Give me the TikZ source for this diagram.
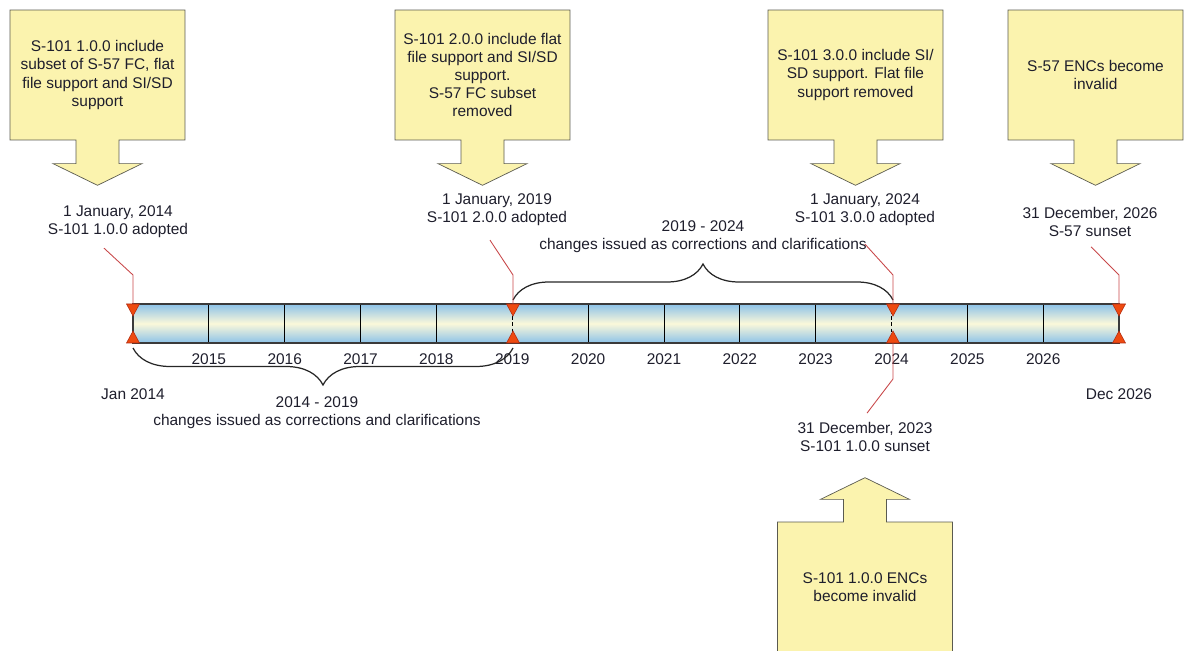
\documentclass[tikz,border=0pt]{standalone}
\usepackage{fontspec}
\setmainfont{Liberation Sans}
\usetikzlibrary{arrows.meta,calc,positioning,shapes.arrows,decorations.pathreplacing}
\definecolor{boxYellow}{HTML}{FBF3AE}
\definecolor{boxEdge}{HTML}{5A5A50}
\definecolor{barBlue}{HTML}{8CC2E8}
\definecolor{barCream}{HTML}{FBF8DA}
\definecolor{barEdge}{HTML}{3A3A3A}
\definecolor{markRed}{HTML}{EE4A10}
\definecolor{markEdge}{HTML}{B02A10}
\definecolor{leaderRed}{HTML}{C8484A}
\definecolor{textDark}{HTML}{1E1E2C}

\begin{document}
\begin{tikzpicture}[x=0.02cm, y=-0.02cm,
  every node/.style={font=\fontsize{8.8}{10.3}\selectfont, text=textDark, align=center, inner sep=1pt},
  callout/.style={shape=arrow box, draw=boxEdge, fill=boxYellow, minimum width=3.5cm, minimum height=2.6cm, inner sep=0pt,
    arrow box shaft width=0.86cm, arrow box head extend=0.46cm, arrow box tip angle=128},
  leader/.style={draw=leaderRed, line width=0.5pt},
  brc/.style={draw=black!85, line width=0.7pt, decorate}]
\useasboundingbox (0,0) rectangle (1184,651);

% callouts
\node[callout, arrow box arrows={south:0.9cm}] (c14) at (97.5,75) {S-101 1.0.0 include\\subset of S-57 FC, flat\\file support and SI/SD\\support};
\node[callout, arrow box arrows={south:0.9cm}] (c19) at (482.5,75) {S-101 2.0.0 include flat\\file support and SI/SD\\support.\\S-57 FC subset\\removed};
\node[callout, arrow box arrows={south:0.9cm}] (c24) at (855.5,75) {S-101 3.0.0 include SI/\\SD support. Flat file\\support removed};
\node[callout, arrow box arrows={south:0.9cm}] (c26) at (1095.5,75) {S-57 ENCs become\\invalid};
\node[callout, arrow box arrows={north:0.88cm}] (c23) at (865,587) {S-101 1.0.0 ENCs\\become invalid};

% bar
\shade[top color=barBlue, bottom color=barBlue, middle color=barCream] (133,304) rectangle (1119,343);
\foreach \i in {1,2,3,4,6,7,8,9,11,12}
  \draw[black, line width=0.5pt] ({133+\i*75.85},304) -- ({133+\i*75.85},343);
\foreach \i in {5,10}
  \draw[black, line width=0.7pt, dash pattern=on 2pt off 1.5pt] ({133+\i*75.85},304) -- ({133+\i*75.85},343);
\draw[barEdge, line width=0.7pt] (133,304) rectangle (1119,343);
\foreach \yr [count=\i] in {2015,...,2026}
  \node (y\yr) at ({133+\i*75.85},359) {\yr};
\foreach \n/\x in {14/133, 19/513, 24/893, 26/1119}{
  \coordinate (t\n) at (\x,304);
  \coordinate (b\n) at (\x,343);
}

% braces
\draw[brc, decoration={brace, amplitude=0.74cm, mirror}] (b14) ++(0,5) -- ($(b19)+(0,5)$);
\draw[brc, decoration={brace, amplitude=0.72cm}] ($(t19)+(0,-4)$) -- ($(t24)+(0,-4)$);

% texts
\node (l14) at (118,222) {1 January, 2014\\S-101 1.0.0 adopted};
\node (l19) at (497,210) {1 January, 2019\\S-101 2.0.0 adopted};
\node (l24) at (865,210) {1 January, 2024\\S-101 3.0.0 adopted};
\node (l26) at (1090,222) {31 December, 2026\\S-57 sunset};
\node (l23) at (865,437) {31 December, 2023\\S-101 1.0.0 sunset};
\node (jan) at (133,394) {Jan 2014};
\node (dec) at (1119,394) {Dec 2026};
\node (p1) at (317,413) {2014 - 2019\\changes issued as corrections and clarifications};
\node (p2) at (703,237) {2019 - 2024\\changes issued as corrections and clarifications};

% leaders
\draw[leader] ($(l14.south)+(-14,8)$) -- ($(t14)+(0,-29)$) -- (t14);
\draw[leader] ($(l19.south)+(-7,12)$) -- ($(t19)+(0,-29)$) -- (t19);
\draw[leader] ($(l24.south)+(0,16)$) -- ($(t24)+(0,-29)$) -- (t24);
\draw[leader] ($(l26.south)+(1,8)$) -- ($(t26)+(0,-29)$) -- (t26);
\draw[leader] ($(l23.north)+(2,-7)$) -- ($(b24)+(0,36)$) -- (b24);

% markers
\foreach \n in {14,19,24,26}{
  \filldraw[fill=markRed, draw=markEdge, line width=0.3pt] ($(t\n)+(-6.5,0)$) -- ($(t\n)+(6.5,0)$) -- ($(t\n)+(0,12)$) -- cycle;
  \filldraw[fill=markRed, draw=markEdge, line width=0.3pt] ($(b\n)+(-6.5,0)$) -- ($(b\n)+(6.5,0)$) -- ($(b\n)+(0,-12)$) -- cycle;
}
\end{tikzpicture}
\end{document}
